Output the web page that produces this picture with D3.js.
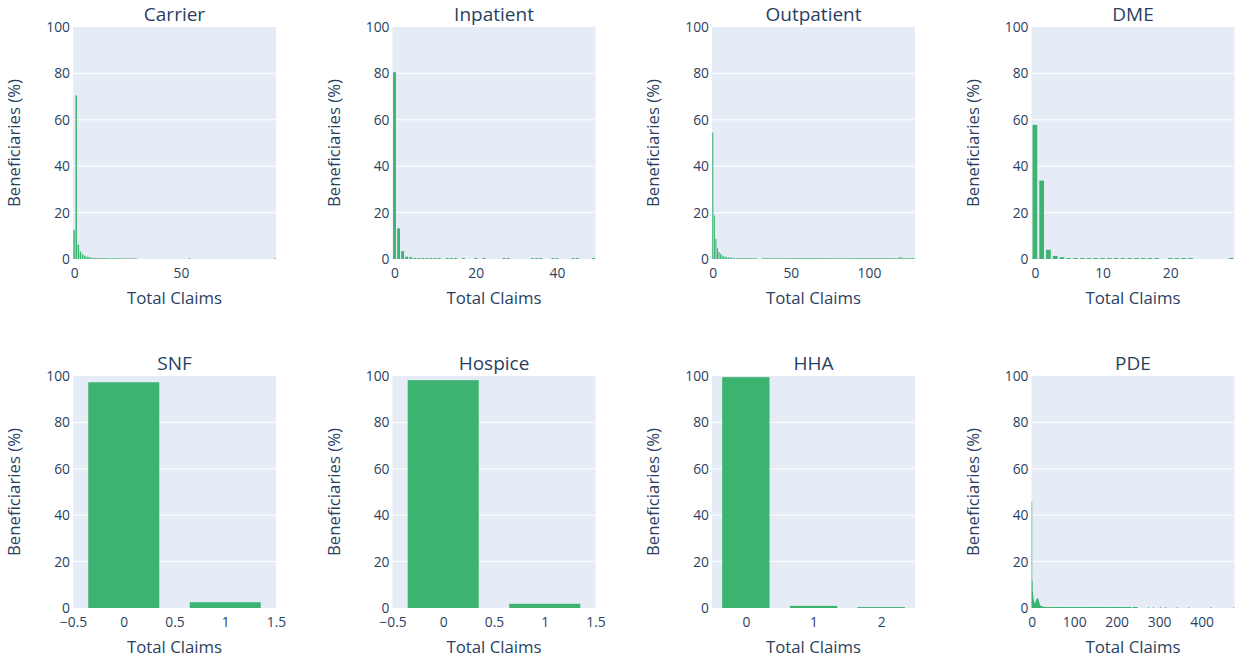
<!DOCTYPE html>
<html>
<head>
<meta charset="utf-8">
<script src="https://cdn.jsdelivr.net/npm/d3@7"></script>
<style>
  body { margin: 0; background: #fff; }
  text { font-family: "Open Sans", sans-serif; fill: #2a3f5f; }
</style>
</head>
<body>
<svg id="chart"></svg>
<script>
// percent of beneficiaries per total-claims bin (bin index = number of claims)
const carrierPct = [
  12.5, 70.5, 6.2, 3.2, 2.0, 1.4, 1.0, 0.8, 0.6, 0.5,
  0.5, 0.45, 0.4, 0.4, 0.4, 0.4, 0.4, 0.35, 0.35, 0.35,
  0.35, 0.35, 0.3, 0.3, 0.3, 0.3, 0.3, 0.3, 0.3, 0.3,
  0, 0, 0, 0, 0, 0, 0, 0, 0, 0,
  0, 0, 0, 0, 0, 0, 0, 0, 0, 0,
  0, 0, 0, 0, 0.3, 0, 0, 0, 0, 0,
  0, 0, 0, 0, 0, 0, 0, 0, 0, 0,
  0, 0, 0, 0, 0, 0, 0, 0, 0, 0,
  0, 0, 0, 0, 0, 0, 0, 0, 0, 0,
  0, 0, 0, 0, 0.3
];
const inpatientPct = [
  80.5, 13.2, 3.4, 1.0, 0.8, 0.4, 0.4, 0.4, 0.4, 0.4,
  0.4, 0.4, 0, 0.4, 0.4, 0.4, 0, 0.4, 0, 0,
  0.4, 0, 0.4, 0, 0, 0, 0, 0.4, 0.4, 0,
  0, 0, 0, 0, 0.4, 0.4, 0.4, 0, 0, 0.4,
  0.4, 0, 0, 0, 0.4, 0.4, 0, 0, 0, 0.4
];
const outpatientPct = [
  54.5, 18.8, 8.7, 4.6, 3.0, 2.2, 1.6, 1.2, 1.0, 0.8,
  0.7, 0.6, 0.55, 0.5, 0.45, 0.4, 0.4, 0.4, 0.4, 0.4,
  0.4, 0.4, 0.4, 0.4, 0.4, 0.4, 0.4, 0.4, 0.4, 0,
  0, 0, 0.4, 0.4, 0.4, 0.4, 0.4, 0.4, 0.4, 0.4,
  0.4, 0.4, 0.4, 0.4, 0.4, 0.4, 0.4, 0.4, 0.4, 0.4,
  0.4, 0.4, 0.4, 0.4, 0.4, 0.4, 0.4, 0.4, 0.4, 0.4,
  0.4, 0.4, 0.4, 0.4, 0.4, 0.4, 0.4, 0.4, 0.4, 0.4,
  0.4, 0.4, 0.4, 0.4, 0.4, 0.4, 0.4, 0.4, 0.4, 0.4,
  0.4, 0.4, 0.4, 0.4, 0.4, 0.4, 0.4, 0.4, 0.4, 0.4,
  0.4, 0.4, 0.4, 0.4, 0.4, 0.4, 0.4, 0.4, 0.4, 0.4,
  0.4, 0.4, 0.4, 0.4, 0.4, 0.4, 0.4, 0.4, 0.4, 0.4,
  0.4, 0.4, 0.4, 0.4, 0.4, 0.4, 0.4, 0.4, 0.4, 0.4,
  0.9, 0.6, 0.4, 0.4, 0.4, 0.4, 0.4, 0.4, 0.4, 0.4
];
const dmePct = [
  57.8, 33.8, 4.0, 1.3, 0.8, 0.4, 0.4, 0.4, 0.4, 0.4,
  0.4, 0.4, 0.4, 0.4, 0.4, 0.4, 0.4, 0.4, 0.4, 0,
  0.4, 0.4, 0.4, 0.4, 0, 0, 0, 0, 0, 0.4
];
const snfPct = [97.3, 2.5];
const hospicePct = [98.2, 1.8];
const hhaPct = [99.5, 0.9, 0.4];
const pdePct = [
  45.8, 11.8, 7.0, 5.0, 3.6, 2.9, 2.4, 2.0, 1.8, 2.2, 2.8, 3.4, 3.9, 4.2, 4.1, 3.7, 3.1, 2.5, 1.9, 1.4,
  1.1, 0.9, 0.8, 0.7, 0.6, 0.6, 0.5, 0.5, 0.5, 0.5, 0.4, 0.4, 0.4, 0.4, 0.4, 0.4, 0.4, 0.4, 0.4, 0.4,
  0.4, 0.4, 0.4, 0.4, 0.4, 0.4, 0.4, 0.4, 0.4, 0.4, 0.4, 0.4, 0.4, 0.4, 0.4, 0.4, 0.4, 0.4, 0.4, 0.4,
  0.4, 0.4, 0.4, 0.4, 0.4, 0.4, 0.4, 0.4, 0.4, 0.4, 0.4, 0.4, 0.4, 0.4, 0.4, 0.4, 0.4, 0.4, 0.4, 0.4,
  0.4, 0.4, 0.4, 0.4, 0.4, 0.4, 0.4, 0.4, 0.4, 0.4, 0.4, 0.4, 0.4, 0.4, 0.4, 0.4, 0.4, 0.4, 0.4, 0.4,
  0.4, 0.4, 0.4, 0.4, 0.4, 0.4, 0.4, 0.4, 0.4, 0.4, 0.4, 0.4, 0.4, 0.4, 0.4, 0.4, 0.4, 0.4, 0.4, 0.4,
  0.4, 0.4, 0.4, 0.4, 0.4, 0.4, 0.4, 0.4, 0.4, 0.4, 0.4, 0.4, 0.4, 0.4, 0.4, 0.4, 0.4, 0.4, 0.4, 0.4,
  0.4, 0.4, 0.4, 0.4, 0.4, 0.4, 0.4, 0.4, 0.4, 0.4, 0.4, 0.4, 0.4, 0.4, 0.4, 0.4, 0.4, 0.4, 0.4, 0.4,
  0.4, 0.4, 0.4, 0.4, 0.4, 0.4, 0.4, 0.4, 0.4, 0.4, 0.4, 0.4, 0.4, 0.4, 0.4, 0.4, 0.4, 0.4, 0.4, 0.4,
  0.4, 0.4, 0.4, 0.4, 0.4, 0.4, 0.4, 0.4, 0.4, 0.4, 0.4, 0.4, 0.4, 0.4, 0.4, 0.4, 0.4, 0.4, 0.4, 0.4,
  0.4, 0.4, 0.4, 0.4, 0.4, 0.4, 0.4, 0.4, 0.4, 0.4, 0.4, 0.4, 0.4, 0.4, 0.4, 0.4, 0.4, 0.4, 0.4, 0.4,
  0.4, 0.4, 0.4, 0.4, 0.4, 0.4, 0.4, 0.4, 0.4, 0.4, 0.4, 0.4, 0.4, 0.4, 0, 0, 0, 0, 0.4, 0.4,
  0.4, 0.4, 0.4, 0.4, 0.4, 0.4, 0.4, 0.4, 0.4
];
// isolated PDE bins further out
const pdeTailClaims = [275, 287, 303, 315, 343, 370, 422, 476];
const pdeTailPct = [0.4, 0.4, 0.4, 0.4, 0.4, 0.4, 0.4, 0.4];

const carrierTicks = [0, 50];
const inpatientTicks = [0, 20, 40];
const outpatientTicks = [0, 50, 100];
const dmeTicks = [0, 10, 20];
const snfTicks = [-0.5, 0, 0.5, 1, 1.5];
const hospiceTicks = [-0.5, 0, 0.5, 1, 1.5];
const hhaTicks = [0, 1, 2];
const pdeTicks = [0, 100, 200, 300, 400];
const yTicks = [0, 20, 40, 60, 80, 100];

const toBins = (vals) => vals.map((v, i) => ({ claims: i, pct: v }));

const panels = [
  { name: 'Carrier', bins: toBins(carrierPct), domain: [-0.5, 94.5], ticks: carrierTicks },
  { name: 'Inpatient', bins: toBins(inpatientPct), domain: [-0.5, 49.5], ticks: inpatientTicks },
  { name: 'Outpatient', bins: toBins(outpatientPct), domain: [-0.5, 129.5], ticks: outpatientTicks },
  { name: 'DME', bins: toBins(dmePct), domain: [-0.5, 29.5], ticks: dmeTicks },
  { name: 'SNF', bins: toBins(snfPct), domain: [-0.5, 1.5], ticks: snfTicks },
  { name: 'Hospice', bins: toBins(hospicePct), domain: [-0.5, 1.5], ticks: hospiceTicks },
  { name: 'HHA', bins: toBins(hhaPct), domain: [-0.5, 2.5], ticks: hhaTicks },
  { name: 'PDE',
    bins: toBins(pdePct).concat(pdeTailClaims.map((c, i) => ({ claims: c, pct: pdeTailPct[i] }))),
    domain: [-0.5, 477.5], ticks: pdeTicks }
];

const config = {
  width: 1241, height: 662,
  colLeft: [73, 392.5, 712, 1031.5],
  rowTop: [27, 376],
  plotW: 203, plotH: 232,
  barColor: '#3CB371', bg: '#E5ECF6'
};

const svg = d3.select('#chart')
  .attr('width', config.width)
  .attr('height', config.height);

const y = d3.scaleLinear().domain([0, 100]).range([config.plotH, 0]);

panels.forEach((p, idx) => {
  const col = idx % 4, row = Math.floor(idx / 4);
  const g = svg.append('g')
    .attr('transform', `translate(${config.colLeft[col]}, ${config.rowTop[row]})`);

  const x = d3.scaleLinear().domain(p.domain).range([0, config.plotW]);

  g.append('rect')
    .attr('width', config.plotW).attr('height', config.plotH)
    .attr('fill', config.bg);

  // horizontal grid
  g.selectAll('.grid')
    .data(yTicks.filter(t => t > 0 && t < 100))
    .join('line')
      .attr('x1', 0).attr('x2', config.plotW)
      .attr('y1', d => y(d)).attr('y2', d => y(d))
      .attr('stroke', '#fff').attr('stroke-width', 1);

  const clipId = 'clip' + idx;
  g.append('clipPath').attr('id', clipId)
    .append('rect').attr('width', config.plotW).attr('height', config.plotH);

  // bars are 0.7 of a bin wide, but never thinner than 1px so dense panels stay visible
  const barW = d => Math.max(1, x(d.claims + 0.35) - x(d.claims - 0.35));
  g.append('g').attr('clip-path', `url(#${clipId})`)
    .selectAll('rect')
    .data(p.bins.filter(d => d.pct > 0))
    .join('rect')
      .attr('x', d => x(d.claims) - barW(d) / 2)
      .attr('width', barW)
      .attr('y', d => y(d.pct))
      .attr('height', d => y(0) - y(d.pct))
      .attr('fill', config.barColor);

  const xAxis = g.append('g')
    .attr('transform', `translate(0, ${config.plotH})`)
    .call(d3.axisBottom(x).tickValues(p.ticks).tickSize(0).tickPadding(9).tickFormat(d3.format('')));
  xAxis.select('.domain').remove();
  xAxis.selectAll('text').attr('font-size', 13.8).attr('font-family', null);

  const yAxis = g.append('g')
    .call(d3.axisLeft(y).tickValues(yTicks).tickSize(0).tickPadding(3));
  yAxis.select('.domain').remove();
  yAxis.selectAll('text').attr('font-size', 13.8).attr('font-family', null);

  g.append('text')
    .attr('x', config.plotW / 2).attr('y', -6.5)
    .attr('text-anchor', 'middle')
    .attr('font-size', 19)
    .text(p.name);

  g.append('text')
    .attr('x', config.plotW / 2).attr('y', config.plotH + 45)
    .attr('text-anchor', 'middle')
    .attr('font-size', 16.8)
    .text('Total Claims');

  g.append('text')
    .attr('transform', `translate(-53, ${config.plotH / 2}) rotate(-90)`)
    .attr('text-anchor', 'middle')
    .attr('font-size', 16.8)
    .text('Beneficiaries (%)');
});
</script>
</body>
</html>
